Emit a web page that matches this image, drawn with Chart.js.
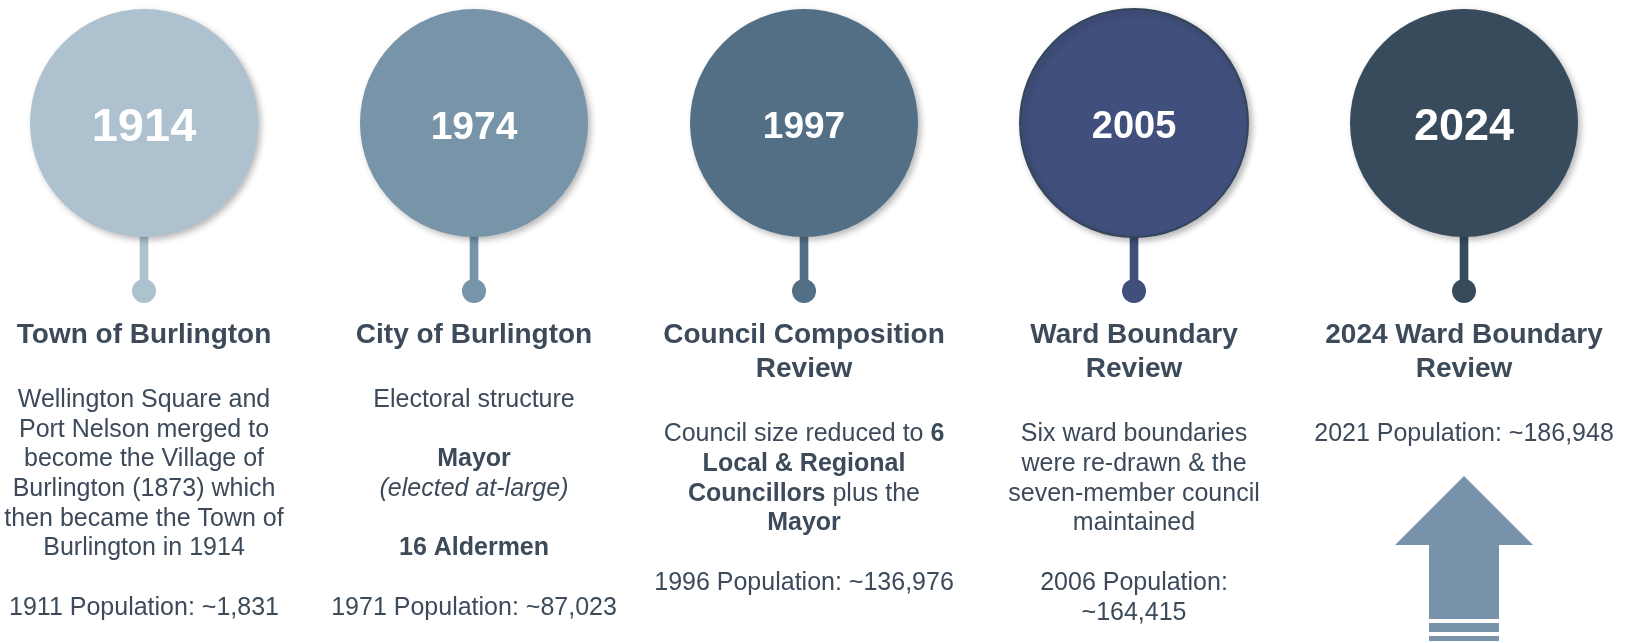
<!DOCTYPE html>
<html>
<head>
<meta charset="utf-8">
<script src="https://cdn.jsdelivr.net/npm/chart.js@4.4.1/dist/chart.umd.min.js"></script>
<style>
  html, body { margin: 0; padding: 0; background: #fff; }
  #wrap { width: 1637px; height: 643px; }
</style>
</head>
<body>
<div id="wrap"><canvas id="timeline" width="1637" height="643"></canvas></div>
<script>
// milestones, left to right
const years = ["1914", "1974", "1997", "2005", "2024"];
const titles = [
  ["Town of Burlington"],
  ["City of Burlington"],
  ["Council Composition", "Review"],
  ["Ward Boundary", "Review"],
  ["2024 Ward Boundary", "Review"],
];
// **bold**, _italic_, "" = blank line
const descriptions = [
  ["Wellington Square and", "Port Nelson merged to", "become the Village of",
   "Burlington (1873) which", "then became the Town of", "Burlington in 1914"],
  ["Electoral structure", "", "**Mayor**", "_(elected at-large)_", "", "**16 Aldermen**"],
  ["Council size reduced to **6**", "**Local & Regional**", "**Councillors** plus the", "**Mayor**"],
  ["Six ward boundaries", "were re-drawn & the", "seven-member council", "maintained"],
  [],
];
const censusYears = [1911, 1971, 1996, 2006, 2021];
const populations = [1831, 87023, 136976, 164415, 186948];

// styling
const colors = ["#adc1cf", "#7794a9", "#526f86", "#404f7c", "#384b5c"];
const edgeColors = ["#adc1cf", "#7794a9", "#526f86", "#34475a", "#384b5c"];
const edgeWidths = [0, 0, 0, 2, 0];
const yearSizes = [47, 39, 37, 38, 45];
const popWrap = [false, false, false, true, false];
const textColor = "#3c4a5a";
const arrowColor = "#7893a9";
const FONT = "'Liberation Sans', Arial, Helvetica, sans-serif";

// layout (y in canvas units, scale runs 0..643 top-down)
const CIRCLE_Y = 123, CIRCLE_R = 114;
const STEM_TOP = 232, DOT_Y = 291, DOT_R = 12;
const YEAR_DY = 5;
const TITLE_Y = 335, TITLE_LH = 34.5, BODY_GAP = 65, BODY_LH = 29.7;

const idx = years.map((_, i) => i);

function fmt(n) {
  return String(n).replace(/\B(?=(\d{3})+(?!\d))/g, ",");
}

function runs(line) {
  const out = [];
  line.split(/(\*\*[^*]+\*\*|_[^_]+_)/).forEach(p => {
    if (!p) return;
    if (p.startsWith("**")) out.push([p.slice(2, -2), "bold 25px " + FONT]);
    else if (p.startsWith("_")) out.push([p.slice(1, -1), "italic 25px " + FONT]);
    else out.push([p, "25px " + FONT]);
  });
  return out;
}

function drawLine(ctx, line, x, y) {
  const parts = runs(line);
  let total = 0;
  parts.forEach(r => { ctx.font = r[1]; r.push(ctx.measureText(r[0]).width); total += r[2]; });
  let cx = x - total / 2;
  parts.forEach(r => { ctx.font = r[1]; ctx.fillText(r[0], cx, y); cx += r[2]; });
}

// soft drop shadow under the big circles
const shadowPlugin = {
  id: "circleShadow",
  beforeDatasetDraw(chart, args) {
    if (args.index !== 0) return;
    const ctx = chart.ctx;
    ctx.save();
    ctx.shadowColor = "rgba(0,0,0,0.28)";
    ctx.shadowBlur = 6;
    ctx.shadowOffsetX = 3;
    ctx.shadowOffsetY = 3;
  },
  afterDatasetDraw(chart, args) {
    if (args.index === 0) chart.ctx.restore();
  }
};

const textPlugin = {
  id: "timelineText",
  afterDatasetsDraw(chart) {
    const ctx = chart.ctx;
    const xs = chart.scales.x, ys = chart.scales.y;
    ctx.save();
    ctx.textBaseline = "middle";
    idx.forEach(i => {
      const x = xs.getPixelForValue(i);
      // year inside the circle
      ctx.fillStyle = "#ffffff";
      ctx.textAlign = "center";
      ctx.font = "bold " + yearSizes[i] + "px " + FONT;
      ctx.fillText(years[i], x, ys.getPixelForValue(CIRCLE_Y + YEAR_DY));

      ctx.fillStyle = textColor;
      let y = TITLE_Y;
      ctx.font = "bold 28px " + FONT;
      titles[i].forEach((t, k) => {
        ctx.fillText(t, x, ys.getPixelForValue(y));
        if (k < titles[i].length - 1) y += TITLE_LH;
      });
      y += BODY_GAP;
      ctx.textAlign = "left";
      descriptions[i].forEach(line => {
        if (line) drawLine(ctx, line, x, ys.getPixelForValue(y));
        y += BODY_LH;
      });
      if (descriptions[i].length) y += BODY_LH;
      const popLabel = censusYears[i] + " Population:";
      const popValue = "~" + fmt(populations[i]);
      const popLines = popWrap[i] ? [popLabel, popValue] : [popLabel + " " + popValue];
      popLines.forEach(line => {
        drawLine(ctx, line, x, ys.getPixelForValue(y));
        y += BODY_LH;
      });
    });

    // growth arrow under the latest milestone
    const ax = xs.getPixelForValue(idx[idx.length - 1]);
    const py = v => ys.getPixelForValue(v);
    ctx.fillStyle = arrowColor;
    ctx.beginPath();
    ctx.moveTo(ax, py(476));
    ctx.lineTo(ax + 69, py(545));
    ctx.lineTo(ax + 35, py(545));
    ctx.lineTo(ax + 35, py(619));
    ctx.lineTo(ax - 35, py(619));
    ctx.lineTo(ax - 35, py(545));
    ctx.lineTo(ax - 69, py(545));
    ctx.closePath();
    ctx.fill();
    ctx.fillRect(ax - 35, py(623), 70, py(632) - py(623));
    ctx.fillRect(ax - 35, py(636), 70, py(641) - py(636));
    ctx.restore();
  }
};

new Chart(document.getElementById("timeline"), {
  type: "bar",
  data: {
    datasets: [
      {
        type: "scatter",
        data: idx.map(i => ({ x: i, y: CIRCLE_Y })),
        pointRadius: CIRCLE_R,
        backgroundColor: colors,
        borderColor: edgeColors,
        borderWidth: edgeWidths,
        clip: false,
        order: 1,
      },
      {
        type: "scatter",
        data: idx.map(i => ({ x: i, y: DOT_Y })),
        pointRadius: DOT_R,
        backgroundColor: colors,
        borderWidth: 0,
        clip: false,
        order: 2,
      },
      {
        type: "bar",
        data: idx.map(i => ({ x: i, y: [STEM_TOP, DOT_Y] })),
        backgroundColor: colors,
        borderWidth: 0,
        barThickness: 8,
        clip: false,
        order: 3,
      },
    ],
  },
  options: {
    responsive: false,
    animation: false,
    events: [],
    layout: { padding: 0, autoPadding: false },
    plugins: { legend: { display: false }, tooltip: { enabled: false } },
    scales: {
      x: { type: "linear", min: -0.4364, max: 4.5242, offset: false, display: false },
      y: { type: "linear", min: 0, max: 643, reverse: true, display: false },
    },
  },
  plugins: [shadowPlugin, textPlugin],
});
</script>
</body>
</html>
